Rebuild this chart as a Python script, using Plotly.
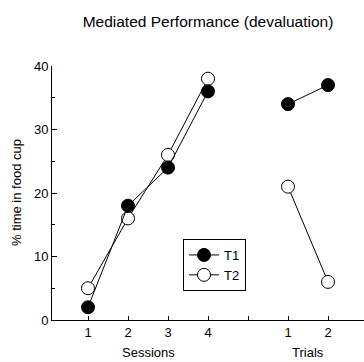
import plotly.graph_objects as go

# Data
session_labels = ["1", "2", "3", "4"]
trial_labels = ["1", "2"]
t1_sessions = [2, 18, 24, 36]
t2_sessions = [5, 16, 26, 38]
t1_trials = [34, 37]
t2_trials = [21, 6]

session_x = [1, 2, 3, 4]
trial_x = [6, 7]

xs = session_x + [None] + trial_x
t1 = t1_sessions + [None] + t1_trials
t2 = t2_sessions + [None] + t2_trials

fig = go.Figure()
fig.add_trace(go.Scatter(
    x=xs, y=t2, mode="lines+markers", name="T2",
    line=dict(color="black", width=1),
    marker=dict(symbol="circle", size=13, color="white", line=dict(color="black", width=1)),
    connectgaps=False, cliponaxis=False,
))
fig.add_trace(go.Scatter(
    x=xs, y=t1, mode="lines+markers", name="T1",
    line=dict(color="black", width=1),
    marker=dict(symbol="circle", size=13, color="black", line=dict(color="black", width=1)),
    connectgaps=False, cliponaxis=False,
))

W, H = 364, 362
L, R, T, B = 52, 0, 66, 42
pw = W - L - R
ph = H - T - B

fig.update_layout(
    width=W, height=H,
    margin=dict(l=L, r=R, t=T, b=B, autoexpand=False),
    paper_bgcolor="white", plot_bgcolor="white",
    font=dict(family="Liberation Sans, Arial, sans-serif", size=13, color="black"),
    showlegend=True,
    legend=dict(
        x=(183 - L) / pw, y=(320 - 239) / ph, xanchor="left", yanchor="top",
        bordercolor="black", borderwidth=1, bgcolor="white",
        traceorder="reversed", itemwidth=30,
        font=dict(size=13), tracegroupgap=0,
    ),
    title=dict(text="Mediated Performance (devaluation)", x=208 / W, xanchor="center",
               y=1 - 22 / H, yanchor="middle", font=dict(size=15.5)),
)

fig.update_xaxes(
    range=[0.1, 7.9], showgrid=False, zeroline=False, automargin=False,
    showline=True, linecolor="black", linewidth=1,
    tickmode="array", tickvals=session_x + [5] + trial_x,
    ticktext=session_labels + [""] + trial_labels,
    ticks="inside", ticklen=4, tickcolor="black",
    tickfont=dict(size=13),
)
fig.update_yaxes(
    range=[0, 40], showgrid=False, zeroline=False, automargin=False,
    showline=True, linecolor="black", linewidth=1,
    tickvals=[0, 10, 20, 30, 40],
    ticks="inside", ticklen=5, tickcolor="black",
    minor=dict(tickvals=[5, 15, 25, 35], ticks="inside", ticklen=3, tickcolor="black"),
    tickfont=dict(size=13),
)

fig.add_annotation(text="Sessions", x=2.5, y=-(352 - 320) / ph, xref="x", yref="paper",
                   showarrow=False, yanchor="middle", font=dict(size=13))
fig.add_annotation(text="Trials", x=6.5, y=-(352 - 320) / ph, xref="x", yref="paper",
                   showarrow=False, yanchor="middle", font=dict(size=13))
fig.add_annotation(text="% time in food cup", x=(16 - L) / pw, y=(320 - 193) / ph,
                   xref="paper", yref="paper", textangle=-90, showarrow=False,
                   xanchor="center", yanchor="middle", font=dict(size=13))

fig.write_html(
    "out.html",
    config={"displayModeBar": False},
    post_script="document.body.style.margin='0';document.body.style.overflow='hidden';",
)
